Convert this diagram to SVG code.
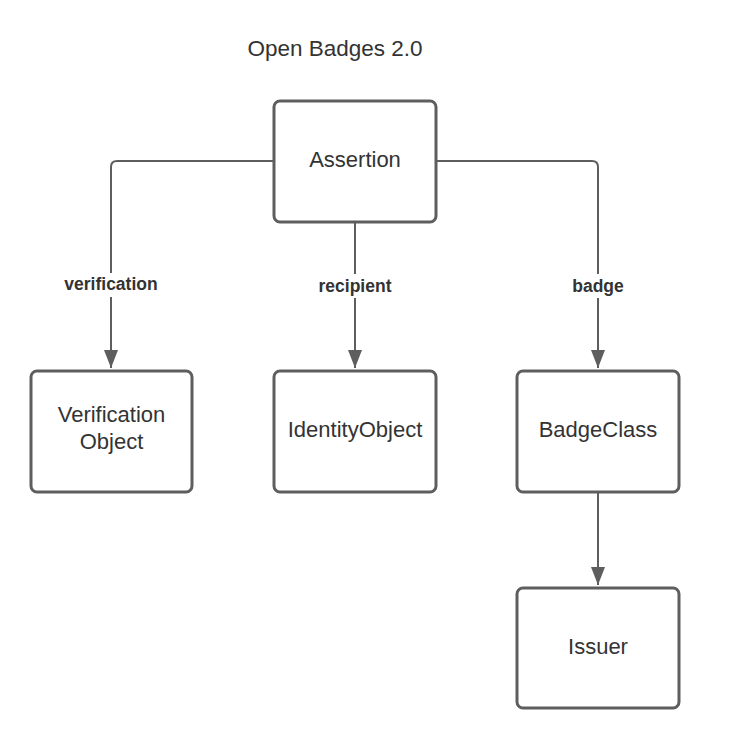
<svg xmlns="http://www.w3.org/2000/svg" width="744" height="744" viewBox="0 0 744 744">
<defs>
<style>
.box{fill:#fff;stroke:#5e5e5e;stroke-width:3}
.lbl{font-family:"Liberation Sans",Arial,sans-serif;font-size:22px;fill:#333;text-anchor:middle}
.edge{fill:none;stroke:#5e5e5e;stroke-width:2}
.el{font-family:"Liberation Sans",Arial,sans-serif;font-size:17.5px;font-weight:bold;fill:#333;text-anchor:middle}
.bg{fill:#fff}
</style>
<marker id="arr" markerUnits="userSpaceOnUse" markerWidth="20" markerHeight="14" viewBox="0 0 18 14" refX="18" refY="7" orient="auto">
<path d="M0,0 L18,7 L0,14 Z" fill="#5e5e5e"/>
</marker>
</defs>
<rect width="744" height="744" fill="#fff"/>
<text x="335" y="56" font-family="Liberation Sans, Arial, sans-serif" font-size="22.5" fill="#333" text-anchor="middle">Open Badges 2.0</text>
<g id="connectors">
<path class="edge" d="M274,161 H117 Q111,161 111,167 V368" marker-end="url(#arr)"/>
<path class="edge" d="M355,222 V368" marker-end="url(#arr)"/>
<path class="edge" d="M436,161 H592 Q598,161 598,167 V368" marker-end="url(#arr)"/>
<path class="edge" d="M598,492 V585" marker-end="url(#arr)"/>
<rect class="bg" x="62" y="273" width="98" height="24"/>
<text class="el" x="111" y="290">verification</text>
<rect class="bg" x="316" y="274" width="78" height="24"/>
<text class="el" x="355" y="292">recipient</text>
<rect class="bg" x="570" y="274" width="56" height="24"/>
<text class="el" x="598" y="292">badge</text>
</g>
<g id="assertion">
<rect class="box" x="274" y="101" width="162" height="121" rx="6"/>
<text class="lbl" x="355" y="167">Assertion</text>
</g>
<g id="verification">
<rect class="box" x="31" y="371" width="161" height="121" rx="6"/>
<text class="lbl" x="111.5" y="422">Verification</text>
<text class="lbl" x="111.5" y="449">Object</text>
</g>
<g id="identity">
<rect class="box" x="274" y="371" width="162" height="121" rx="6"/>
<text class="lbl" x="355" y="437">IdentityObject</text>
</g>
<g id="badgeclass">
<rect class="box" x="517" y="371" width="162" height="121" rx="6"/>
<text class="lbl" x="598" y="437">BadgeClass</text>
</g>
<g id="issuer">
<rect class="box" x="517" y="588" width="162" height="120" rx="6"/>
<text class="lbl" x="598" y="654">Issuer</text>
</g>
</svg>
